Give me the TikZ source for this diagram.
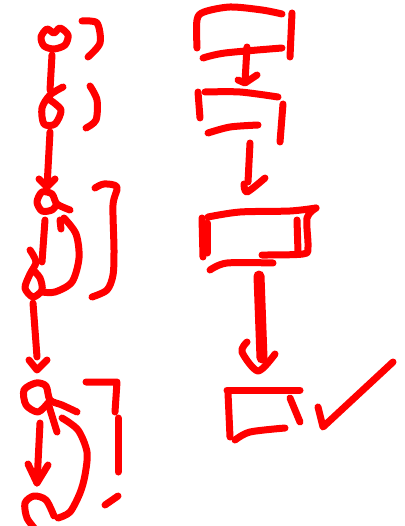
\documentclass[tikz,border=0pt]{standalone}
\begin{document}
\begin{tikzpicture}[x=1pt,y=-1pt,
  pen/.style={draw=red,line width=7pt,line cap=round,line join=round},
  fatpen/.style={draw=red,line width=11pt,line cap=round,line join=round}]
\useasboundingbox (0,0) rectangle (404,526);
% ---------- left column ----------
% top node (heart-like circle)
\draw[pen] plot[smooth cycle] coordinates {(47,29) (41,37) (44,46) (54,49) (65,45) (68,35) (60,28) (54,33)};
% bracket 1
\draw[pen] plot[smooth] coordinates {(82,21) (97,23) (100,43) (88,57)};
% line down
\draw[pen] (52,55) -- (50,90);
% small loop node
\draw[pen] plot[smooth] coordinates {(63,87) (50,95) (42,108) (44,124) (55,124) (61,110) (50,100)};
% bracket 2
\draw[pen] plot[smooth] coordinates {(90,86) (97,100) (96,120) (86,128)};
% line down with arrow
\draw[pen] (50,132) -- (47,187);
\draw[pen] (39,179) -- (47,187) -- (55,179);
% node 3 with tail
\draw[pen] plot[smooth] coordinates {(70,210) (57,204) (52,194) (42,192) (37,202) (42,211) (52,210) (57,204)};
% down arrow inside loop
\draw[pen] (45,220) -- (42,262);
% bottom node of first loop
\draw[pen] plot[smooth] coordinates {(30,250) (36,262) (30,274) (25,288) (33,297) (42,290) (40,278) (33,270)};
% loop back with arrow
\draw[pen] plot[smooth] coordinates {(42,292) (55,292) (72,282) (79,258) (76,234) (64,218)};
\draw[pen] (60,220) -- (61,229);
% bracket 3
\draw[pen] plot[smooth] coordinates {(95,188) (104,184) (117,187) (113,205) (114,250) (113,275) (107,290) (92,297)};
% line down with arrow
\draw[pen] (33,303) -- (37,357);
\draw[pen] (29,360) -- (37,370) -- (47,360);
% node 4 with tail
\draw[pen] plot[smooth] coordinates {(77,412) (62,405) (50,400) (46,386) (36,383) (24,390) (26,405) (38,412) (48,403)};
\draw[pen] (48,403) -- (57,432);
% loop back
\draw[pen] plot[smooth] coordinates {(62,418) (78,430) (87,452) (85,475) (80,493) (70,512) (58,518)};
% down arrow
\draw[pen] (40,423) -- (37,483);
\draw[pen] (28,464) -- (37,483) -- (48,465);
% bottom node
\draw[pen] plot[smooth] coordinates {(54,516) (46,500) (34,496) (25,503) (27,518) (36,530)};
% bracket 4
\draw[pen] (86,382) -- (117,382) -- (115,412);
\draw[pen] (118,418) -- (118,472);
\draw[pen] (105,505) -- (118,496);
% ---------- right column ----------
% box 1
\draw[pen] plot[smooth] coordinates {(197,48) (197,20) (204,12) (230,7) (262,10) (282,14)};
\draw[pen] (292,13) -- (290,57);
\draw[pen] plot[smooth] coordinates {(203,58) (225,53) (282,48)};
% arrow 1
\draw[pen] (247,47) -- (245,82);
\draw[pen] (238,80) -- (245,83) -- (257,75);
% box 2
\draw[pen] plot[smooth] coordinates {(205,92) (240,92) (278,97)};
\draw[pen] (198,92) -- (200,118);
\draw[pen] (283,104) -- (280,142);
\draw[pen] plot[smooth] coordinates {(208,133) (230,127) (258,125)};
% arrow 2
\draw[pen] (250,143) -- (248,182);
\draw[pen] plot[smooth] coordinates {(244,184) (247,192) (265,178)};
% box 3
\draw[pen] plot[smooth] coordinates {(208,217) (240,212) (290,211) (316,208)};
\draw[pen] (202,218) -- (203,257);
\draw[pen] (207,223) -- (207,253);
\draw[pen] (297,220) -- (298,252);
\draw[pen] plot[smooth] coordinates {(316,208) (307,218) (308,247) (303,254) (262,255)};
\draw[pen] plot[smooth] coordinates {(210,270) (227,263) (273,263)};
% big arrow 3
\draw[fatpen] (259,276) -- (262,358);
\draw[pen] plot[smooth] coordinates {(247,342) (242,352) (258,371) (275,354)};
% box 4
\draw[pen] (227,390) -- (300,390);
\draw[pen] (228,393) -- (230,437);
\draw[pen] (290,398) -- (300,422);
\draw[pen] plot[smooth] coordinates {(235,440) (250,432) (285,428)};
% check mark
\draw[pen] (318,407) -- (323,427) -- (393,362);
\end{tikzpicture}
\end{document}
